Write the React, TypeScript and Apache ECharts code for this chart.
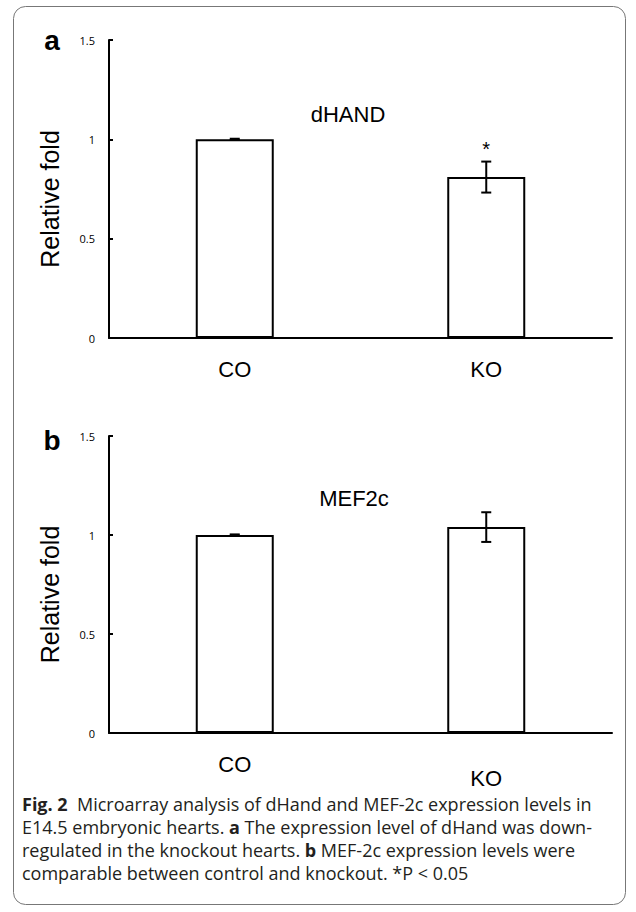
import React, { useEffect, useRef } from "react";
import * as echarts from "echarts";

const categories = ["CO", "KO"];
const dhandValues = [1.0, 0.81];
const dhandErrors = [0.003, 0.078];
const dhandSig = ["", "*"];
const mef2cValues = [1.0, 1.04];
const mef2cErrors = [0.003, 0.075];
const mef2cSig = ["", ""];
const yTicks = [0, 0.5, 1, 1.5];

const captionLines: string[] = [
  "{b|Fig. 2}  Microarray analysis of dHand and MEF-2c expression levels in",
  "E14.5 embryonic hearts. {b|a} The expression level of dHand was down-",
  "regulated in the knockout hearts. {b|b} MEF-2c expression levels were",
  "comparable between control and knockout. *P < 0.05",
];

const FONT = "Liberation Sans, Arial, sans-serif";
const CAP_FONT = "Open Sans, sans-serif";

function errorSeries(gridIdx: number, means: number[], errs: number[], sig: string[]) {
  return {
    type: "custom",
    xAxisIndex: gridIdx,
    yAxisIndex: gridIdx,
    data: means.map((m, i) => [i, m - errs[i], m + errs[i], sig[i]]),
    renderItem: (params: any, api: any) => {
      const x = api.value(0);
      const lo = api.coord([x, api.value(1)]);
      const hi = api.coord([x, api.value(2)]);
      const s = api.value(3);
      const cap = 5;
      const st = { stroke: "#000", lineWidth: 2 };
      const children: any[] = [
        { type: "line", shape: { x1: lo[0], y1: lo[1], x2: hi[0], y2: hi[1] }, style: st },
        { type: "line", shape: { x1: lo[0] - cap, y1: lo[1], x2: lo[0] + cap, y2: lo[1] }, style: st },
        { type: "line", shape: { x1: hi[0] - cap, y1: hi[1], x2: hi[0] + cap, y2: hi[1] }, style: st },
      ];
      if (s) {
        children.push({
          type: "text",
          style: {
            text: s,
            x: hi[0],
            y: hi[1] - 3,
            textAlign: "center",
            textVerticalAlign: "bottom",
            fontSize: 20,
            fontFamily: FONT,
            fill: "#000",
          },
        });
      }
      return { type: "group", children };
    },
    z: 5,
  };
}

export default function App() {
  const ref = useRef<HTMLDivElement>(null);
  useEffect(() => {
    document.body.style.margin = "0";
    const chart = echarts.init(ref.current!, undefined, { renderer: "svg" });
    const grids = [
      { left: 109, top: 40, width: 503, height: 298 },
      { left: 109, top: 436, width: 503, height: 297 },
    ];
    const xAxis = grids.map((_, i) => ({
      type: "category",
      gridIndex: i,
      data: categories,
      axisLine: { lineStyle: { color: "#000", width: 2 } },
      axisTick: { show: false },
      axisLabel: {
        fontSize: 22,
        fontFamily: FONT,
        color: "#000",
        margin: 20,
        formatter: (v: string) => (i === 1 && v === "KO" ? "{lo|" + v + "}" : v),
        rich: { lo: { fontSize: 22, fontFamily: FONT, color: "#000", padding: [14, 0, 0, 0] } },
      },
    }));
    const yAxis = grids.map((_, i) => ({
      type: "value",
      gridIndex: i,
      min: yTicks[0],
      max: yTicks[yTicks.length - 1],
      interval: 0.5,
      name: "Relative fold",
      nameLocation: "middle",
      nameRotate: 90,
      nameGap: 47,
      nameTextStyle: { fontSize: 25, fontFamily: FONT, color: "#000", padding: [0, 20, 0, 0] },
      axisLine: { show: true, lineStyle: { color: "#000", width: 2 } },
      axisTick: { show: true, inside: true, length: 4, lineStyle: { color: "#000", width: 2 } },
      splitLine: { show: false },
      axisLabel: { fontSize: 11, fontFamily: CAP_FONT, color: "#000", margin: 14 },
    }));
    const barStyle = { color: "#fff", borderColor: "#000", borderWidth: 2 };
    const captionGraphics = captionLines.map((line, i) => ({
      type: "text",
      x: 22,
      y: 804 + i * 23,
      style: {
        text: line,
        fontSize: 18,
        fontFamily: CAP_FONT,
        fill: "#231f20",
        textVerticalAlign: "middle",
        rich: {
          b: { fontSize: 18, fontWeight: "bold", fontFamily: CAP_FONT, fill: "#231f20" },
        },
      },
    }));
    chart.setOption({
      animation: false,
      grid: grids,
      xAxis,
      yAxis,
      series: [
        { type: "bar", xAxisIndex: 0, yAxisIndex: 0, data: dhandValues, barWidth: 78, itemStyle: barStyle },
        errorSeries(0, dhandValues, dhandErrors, dhandSig),
        { type: "bar", xAxisIndex: 1, yAxisIndex: 1, data: mef2cValues, barWidth: 78, itemStyle: barStyle },
        errorSeries(1, mef2cValues, mef2cErrors, mef2cSig),
      ],
      graphic: [
        {
          type: "rect",
          shape: { x: 13.5, y: 6.5, width: 612, height: 898, r: 12 },
          style: { fill: "none", stroke: "#777", lineWidth: 1 },
          z: 0,
        },
        { type: "text", x: 52, y: 40, style: { text: "a", fontSize: 28, fontWeight: "bold", fontFamily: FONT, fill: "#000", textAlign: "center", textVerticalAlign: "middle" } },
        { type: "text", x: 52, y: 440, style: { text: "b", fontSize: 28, fontWeight: "bold", fontFamily: FONT, fill: "#000", textAlign: "center", textVerticalAlign: "middle" } },
        { type: "text", x: 348, y: 114, style: { text: "dHAND", fontSize: 22, fontFamily: FONT, fill: "#000", textAlign: "center", textVerticalAlign: "middle" } },
        { type: "text", x: 354, y: 498, style: { text: "MEF2c", fontSize: 22, fontFamily: FONT, fill: "#000", textAlign: "center", textVerticalAlign: "middle" } },
        ...captionGraphics,
      ],
    });
    return () => chart.dispose();
  }, []);
  return <div ref={ref} style={{ position: "absolute", left: 0, top: 0, width: 636, height: 912, background: "#fff" }} />;
}
